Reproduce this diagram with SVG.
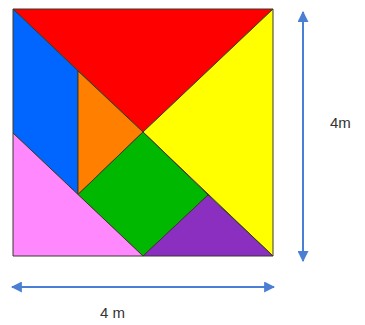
<svg xmlns="http://www.w3.org/2000/svg" width="365" height="325" viewBox="0 0 365 325">
<style>
.pc{stroke:#3a3a2a;stroke-width:1;stroke-linejoin:round}
.dim{stroke:#4a7fd4;stroke-width:2;fill:none}
.lbl{font-family:"Liberation Sans",Arial,sans-serif;font-size:15px;fill:#333}
</style>
<defs>
<marker id="ah" viewBox="0 0 10 10" refX="9" refY="5" markerWidth="5.5" markerHeight="5.5" orient="auto-start-reverse" markerUnits="strokeWidth">
<path d="M0,0 L10,5 L0,10 Z" fill="#4a7fd4"/>
</marker>
</defs>
<rect x="0" y="0" width="365" height="325" fill="#fff"/>
<g id="tangram">
<g id="red"><polygon class="pc" fill="#ff0000" points="13,9 273,9 143,132"/></g>
<g id="yellow"><polygon class="pc" fill="#ffff00" points="273,9 273,256 143,132"/></g>
<g id="blue"><polygon class="pc" fill="#0066ff" points="13,9 78,71 78,194.5 13,133"/></g>
<g id="orange"><polygon class="pc" fill="#ff8000" points="78,71 143,132 78,194.5"/></g>
<g id="green"><polygon class="pc" fill="#00b800" points="143,132 208,195 143,256 78,194.5"/></g>
<g id="purple"><polygon class="pc" fill="#8a2fbf" points="143,256 208,195 273,256"/></g>
<g id="pink"><polygon class="pc" fill="#ff88ff" points="13,133 143,256 13,256"/></g>
</g>
<g id="connectors">
<line class="dim" x1="303" y1="12" x2="303" y2="261" marker-start="url(#ah)" marker-end="url(#ah)"/>
<line class="dim" x1="12" y1="287" x2="274" y2="287" marker-start="url(#ah)" marker-end="url(#ah)"/>
</g>
<g id="label-v"><text class="lbl" x="330" y="128">4m</text></g>
<g id="label-h"><text class="lbl" x="100" y="318">4 m</text></g>
</svg>
